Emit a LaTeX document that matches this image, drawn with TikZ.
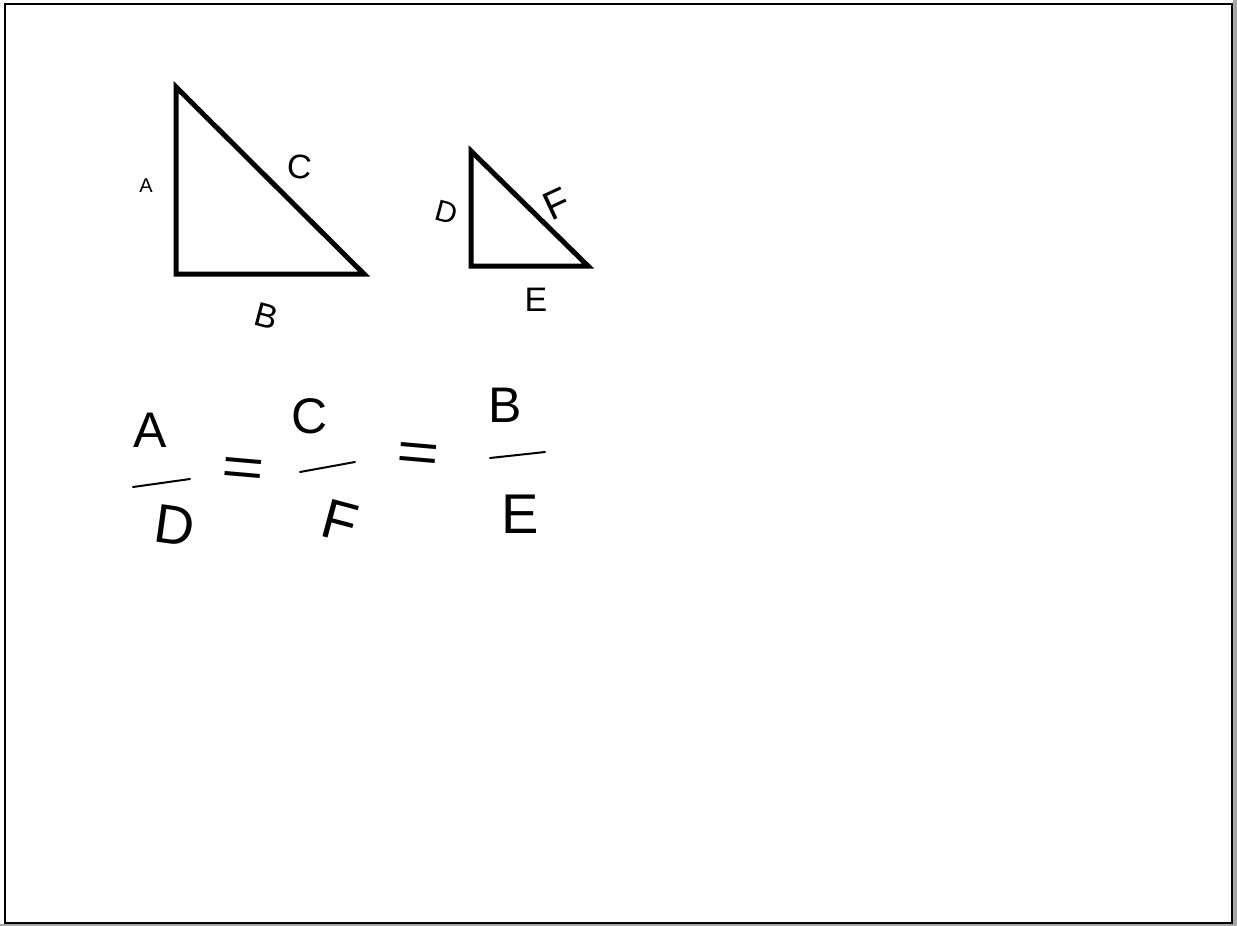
\documentclass[tikz,border=0pt]{standalone}
\usepackage{fontspec}
\setmainfont{Liberation Sans}
\begin{document}
\begin{tikzpicture}[x=1pt,y=-1pt,
  tri/.style={line width=5pt,line join=miter},
  hand/.style={line width=2pt,line cap=round},
  lbl/.style={inner sep=0pt,font=\fontsize{#1}{#1}\selectfont}]
\useasboundingbox (0,0) rectangle (1237,926);
\fill[white] (0,0) rectangle (1237,926);
\fill[gray!70] (1233,0) rectangle (1237,926);
\fill[gray!70] (0,924) rectangle (1237,926);
\draw[line width=2pt] (5,4) rectangle (1232,923);
% large triangle
\coordinate (T1) at (176,87);
\coordinate (L1) at (176,274);
\coordinate (R1) at (364,274);
\draw[tri] (T1) -- (L1) -- (R1) -- cycle;
% small triangle
\coordinate (T2) at (471,151);
\coordinate (L2) at (471,266);
\coordinate (R2) at (588,266);
\draw[tri] (T2) -- (L2) -- (R2) -- cycle;
% labels
\node[lbl=20] (la) at (146,186) {A};
\node[lbl=34,rotate=-5] (lc) at (300,167) {C};
\node[lbl=34,rotate=-15] (lb) at (266,316) {B};
\node[lbl=30,rotate=-15] (ld) at (447,212) {D};
\node[lbl=40,rotate=25] (lf) at (557,204) {F};
\node[lbl=34] (le) at (536,300) {E};
% fractions
\node[lbl=50] (fa) at (150,430) {A};
\coordinate (b1s) at (133,487); \coordinate (b1e) at (190,479);
\draw[hand] (b1s) -- (b1e);
\node[lbl=55,rotate=-8] (fd) at (175,526) {D};
\node[lbl=56,rotate=-5,xscale=1.3] (eq1) at (243,473) {=};
\node[lbl=50] (fc) at (310,416) {C};
\coordinate (b2s) at (300,472); \coordinate (b2e) at (355,462);
\draw[hand] (b2s) -- (b2e);
\node[lbl=56,rotate=-15] (ff) at (340,521) {F};
\node[lbl=56,rotate=-5,xscale=1.3] (eq2) at (418,458) {=};
\node[lbl=50] (fb) at (505,405) {B};
\coordinate (b3s) at (490,458); \coordinate (b3e) at (545,452);
\draw[hand] (b3s) -- (b3e);
\node[lbl=56] (fe) at (520,514) {E};
\end{tikzpicture}
\end{document}
